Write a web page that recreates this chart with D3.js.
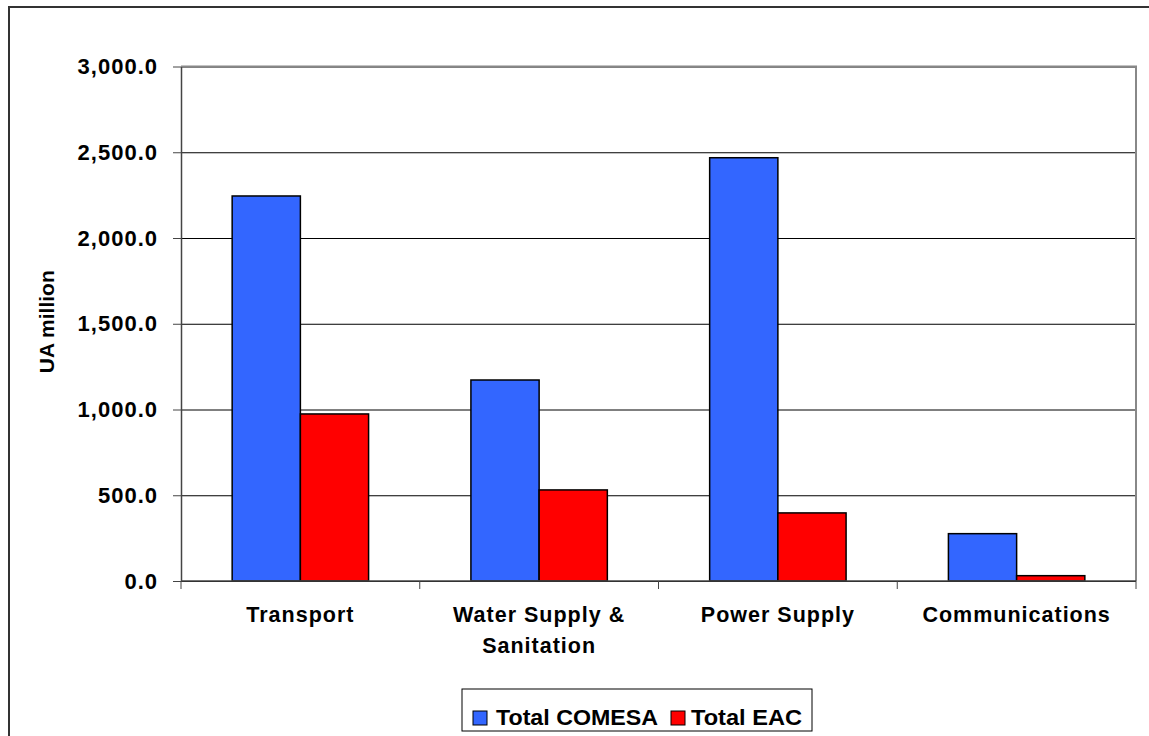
<!DOCTYPE html>
<html>
<head>
<meta charset="utf-8">
<script src="https://cdn.jsdelivr.net/npm/d3@7"></script>
<style>
  body { margin: 0; background: #fff; }
  text { font-family: Arial, 'Liberation Sans', sans-serif; font-weight: bold; fill: #000; }
</style>
</head>
<body>
<div id="chart"></div>
<script>
const categories = [['Transport'], ['Water Supply &', 'Sanitation'], ['Power Supply'], ['Communications']]
const seriesNames = ['Total COMESA', 'Total EAC']
const comesaValues = [2245, 1172, 2468, 276]
const eacValues = [974, 531, 397, 31]
const yTicks = [0, 500, 1000, 1500, 2000, 2500, 3000]

const colors = ['#3366FF', '#FF0000']
const width = 1149
const height = 736
const plot = { left: 181, right: 1136, top: 66.5, bottom: 581 }

const svg = d3
  .select('#chart')
  .append('svg')
  .attr('width', width)
  .attr('height', height)

// outer chart border
svg
  .append('rect')
  .attr('x', 9)
  .attr('y', 7)
  .attr('width', width + 20)
  .attr('height', height + 20)
  .attr('fill', 'none')
  .attr('stroke', '#333')
  .attr('stroke-width', 2)

const catKeys = categories.map(c => c.join(' '))
const xScale = d3
  .scaleBand()
  .domain(catKeys)
  .range([plot.left, plot.right])
  .paddingInner(0)
  .paddingOuter(0)

// gap width 150% -> each bar = band / 3.5
const barW = xScale.bandwidth() / 3.5
const yScale = d3.scaleLinear().domain([0, 3000]).range([plot.bottom, plot.top])

const chartCore = svg.append('g')

// grid
chartCore
  .append('g')
  .attr('transform', `translate(${plot.left},0)`)
  .call(d3.axisLeft(yScale).tickValues(yTicks).tickSize(-(plot.right - plot.left)).tickFormat(''))
  .call(g => g.select('.domain').remove())
  .call(g => g.selectAll('.tick line').attr('stroke', '#000').attr('stroke-width', 1))

// plot area border (top + right)
chartCore
  .append('path')
  .attr('d', `M${plot.left},${plot.top}H${plot.right}V${plot.bottom}`)
  .attr('fill', 'none')
  .attr('stroke', '#888')
  .attr('stroke-width', 2)

const seriesValues = [comesaValues, eacValues]
seriesValues.forEach((vals, si) => {
  chartCore
    .append('g')
    .selectAll('rect')
    .data(vals)
    .join('rect')
    .attr('x', (d, i) => xScale(catKeys[i]) + barW * 0.75 + si * barW)
    .attr('y', d => yScale(d))
    .attr('width', barW)
    .attr('height', d => yScale(0) - yScale(d))
    .attr('fill', colors[si])
    .attr('stroke', '#000')
    .attr('stroke-width', 1.5)
})

// y axis
chartCore
  .append('g')
  .attr('transform', `translate(${plot.left},0)`)
  .call(
    d3
      .axisLeft(yScale)
      .tickValues(yTicks)
      .tickSize(8)
      .tickSizeOuter(0)
      .tickPadding(15)
      .tickFormat(d3.format(',.1f')),
  )
  .call(g => g.select('.domain').attr('stroke', '#444').attr('stroke-width', 1.5))
  .call(g => g.selectAll('.tick line').attr('stroke', '#444'))
  .call(g =>
    g
      .selectAll('.tick text')
      .style('font-size', '22px')
      .style('letter-spacing', '1px')
      .style('font-family', 'Arial, Liberation Sans, sans-serif')
      .style('font-weight', 'bold')
      .attr('fill', '#000'),
  )

// x axis line + ticks at band edges
const xAxisGroup = chartCore.append('g')
xAxisGroup
  .append('line')
  .attr('x1', plot.left)
  .attr('x2', plot.right)
  .attr('y1', plot.bottom)
  .attr('y2', plot.bottom)
  .attr('stroke', '#444')
  .attr('stroke-width', 1.5)
xAxisGroup
  .selectAll('.xtick')
  .data(catKeys.concat(['end']))
  .join('line')
  .attr('x1', (d, i) => (i < catKeys.length ? xScale(d) : plot.right))
  .attr('x2', (d, i) => (i < catKeys.length ? xScale(d) : plot.right))
  .attr('y1', plot.bottom)
  .attr('y2', plot.bottom + 8)
  .attr('stroke', '#444')

xAxisGroup
  .selectAll('.xlabel')
  .data(categories)
  .join('text')
  .attr('text-anchor', 'middle')
  .style('font-size', '21.5px')
  .style('letter-spacing', '1px')
  .attr('transform', (d, i) => `translate(${xScale(catKeys[i]) + xScale.bandwidth() / 2},622)`)
  .selectAll('tspan')
  .data(d => d)
  .join('tspan')
  .attr('x', 0)
  .attr('dy', (d, i) => (i === 0 ? 0 : 31))
  .text(d => d)

// y axis title
svg
  .append('text')
  .attr('text-anchor', 'middle')
  .style('font-size', '21px')
  .attr('transform', `translate(54,${(plot.top + plot.bottom) / 2 - 2}) rotate(-90)`)
  .text('UA million')

// legend
const legend = svg.append('g')
legend
  .append('rect')
  .attr('x', 462)
  .attr('y', 689)
  .attr('width', 350)
  .attr('height', 42)
  .attr('fill', '#fff')
  .attr('stroke', '#000')
  .attr('stroke-width', 1)
const legendItems = [
  { x: 473, textX: 496, len: 162 },
  { x: 671, textX: 691, len: 111 },
]
seriesNames.forEach((name, i) => {
  legend
    .append('rect')
    .attr('x', legendItems[i].x)
    .attr('y', 711)
    .attr('width', 14)
    .attr('height', 14)
    .attr('fill', colors[i])
    .attr('stroke', '#000')
  legend
    .append('text')
    .attr('x', legendItems[i].textX)
    .attr('y', 725)
    .attr('textLength', legendItems[i].len)
    .attr('lengthAdjust', 'spacingAndGlyphs')
    .style('font-size', '22px')
    .text(name)
})
</script>
</body>
</html>
